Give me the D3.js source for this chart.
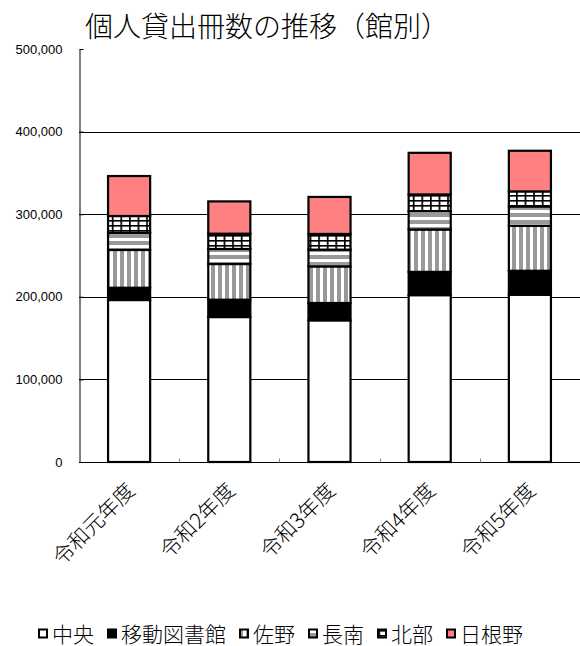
<!DOCTYPE html>
<html>
<head>
<meta charset="utf-8">
<script src="https://cdn.jsdelivr.net/npm/d3@7"></script>
<style>
  body { margin: 0; background: #fff; }
  svg { display: block; font-family: "Noto Sans CJK JP", sans-serif; font-weight: 300; }
</style>
</head>
<body>
<div id="chart"></div>
<script>
// 年度
const years = ["令和元年度", "令和2年度", "令和3年度", "令和4年度", "令和5年度"];

// 館別の貸出冊数（下から積み上げ）
const branches = ["中央", "移動図書館", "佐野", "長南", "北部", "日根野"];
const chuo     = [196100, 175500, 171500, 202000, 202500];
const idou     = [14900, 21000, 21000, 28200, 29000];
const sano     = [45700, 43200, 44300, 51300, 54500];
const chonan   = [20900, 18200, 20300, 22200, 23400];
const hokubu   = [20200, 18500, 19000, 20200, 18200];
const hineno   = [48400, 39100, 44800, 50400, 49200];

const yTicks = [0, 100000, 200000, 300000, 400000, 500000];

const width = 580, height = 646;
const margin = { top: 49, right: 0, bottom: 184, left: 79 };

const seriesValues = [chuo, idou, sano, chonan, hokubu, hineno];
const table = years.map((y, i) => {
  const row = { year: y };
  branches.forEach((b, j) => row[b] = seriesValues[j][i]);
  return row;
});

const svg = d3.select("#chart").append("svg")
  .attr("width", width)
  .attr("height", height);

// fill patterns
const defs = svg.append("defs");

const pSano = defs.append("pattern").attr("id", "p-sano")
  .attr("patternUnits", "userSpaceOnUse").attr("width", 7).attr("height", 10);
pSano.append("rect").attr("width", 7).attr("height", 10).attr("fill", "#fff");
pSano.append("rect").attr("x", 1).attr("width", 4).attr("height", 10).attr("fill", "#999");

const pChonan = defs.append("pattern").attr("id", "p-chonan")
  .attr("patternUnits", "userSpaceOnUse").attr("width", 10).attr("height", 7);
pChonan.append("rect").attr("width", 10).attr("height", 7).attr("fill", "#fff");
pChonan.append("rect").attr("y", 3).attr("width", 10).attr("height", 4).attr("fill", "#999");

const pHokubu = defs.append("pattern").attr("id", "p-hokubu")
  .attr("patternUnits", "userSpaceOnUse").attr("width", 8.6).attr("height", 5);
pHokubu.append("rect").attr("width", 8.6).attr("height", 5).attr("fill", "#fff");
pHokubu.append("rect").attr("x", 0).attr("width", 1.7).attr("height", 5).attr("fill", "#000");
pHokubu.append("rect").attr("y", 0).attr("width", 8.6).attr("height", 1.6).attr("fill", "#000");

const fills = ["#fff", "#000", "url(#p-sano)", "url(#p-chonan)", "url(#p-hokubu)", "#ff8080"];

const x = d3.scaleBand()
  .domain(years)
  .range([margin.left, width - margin.right])
  .paddingInner(0.58)
  .paddingOuter(0.29);

const y = d3.scaleLinear()
  .domain([0, 500000])
  .range([height - margin.bottom, margin.top]);

// title
svg.append("text")
  .attr("x", 267)
  .attr("y", 37)
  .attr("text-anchor", "middle")
  .attr("font-size", 28)
  .attr("fill", "#000")
  .text("個人貸出冊数の推移（館別）");

// gridlines
svg.append("g")
  .selectAll("line")
  .data(yTicks.filter(d => d > 0 && d < 500000))
  .join("line")
    .attr("x1", margin.left)
    .attr("x2", width - margin.right)
    .attr("y1", d => Math.round(y(d)) + 0.5)
    .attr("y2", d => Math.round(y(d)) + 0.5)
    .attr("stroke", "#000")
    .attr("stroke-width", 1);

// y axis
const yAxis = svg.append("g")
  .attr("transform", `translate(${margin.left + 0.5},0)`)
  .call(d3.axisLeft(y)
    .tickValues(yTicks)
    .tickFormat(d3.format(","))
    .tickSizeInner(-4)
    .tickSizeOuter(0)
    .tickPadding(17));
yAxis.select(".domain").attr("stroke", "#000");
yAxis.selectAll(".tick line").attr("stroke", "#000");
yAxis.selectAll(".tick text")
  .attr("font-family", "Liberation Sans, Arial, sans-serif")
  .attr("font-weight", 400)
  .attr("font-size", 13)
  .attr("fill", "#000");

// x axis baseline and category ticks
const y0 = Math.round(y(0)) + 0.5;
svg.append("line")
  .attr("x1", margin.left).attr("x2", width - margin.right)
  .attr("y1", y0).attr("y2", y0)
  .attr("stroke", "#000");

const step = x.step();
svg.append("g")
  .selectAll("line")
  .data(years.slice(1))
  .join("line")
    .attr("x1", d => Math.round(x(d) - step * x.paddingInner() / 2) + 0.5)
    .attr("x2", d => Math.round(x(d) - step * x.paddingInner() / 2) + 0.5)
    .attr("y1", y0)
    .attr("y2", y0 - 4)
    .attr("stroke", "#888");

// stacked bars
const stacked = d3.stack().keys(branches)(table);

svg.append("g")
  .selectAll("g")
  .data(stacked)
  .join("g")
    .attr("fill", (d, i) => fills[i])
  .selectAll("rect")
  .data(d => d)
  .join("rect")
    .attr("x", d => x(d.data.year))
    .attr("width", x.bandwidth())
    .attr("y", d => y(d[1]))
    .attr("height", d => y(d[0]) - y(d[1]))
    .attr("stroke", "#000")
    .attr("stroke-width", 2.2);

// category labels
svg.append("g")
  .selectAll("text")
  .data(years)
  .join("text")
    .attr("transform", d => `translate(${x(d) + x.bandwidth() / 2 + 7},${y(0) + 30}) rotate(-45)`)
    .attr("text-anchor", "end")
    .attr("font-size", 21)
    .attr("fill", "#000")
    .text(d => d);

// legend
const legend = svg.append("g");
let lx = 38;
branches.forEach((b, i) => {
  legend.append("rect")
    .attr("x", lx + 1)
    .attr("y", 629.5)
    .attr("width", 8)
    .attr("height", 8)
    .attr("fill", fills[i])
    .attr("stroke", "#000")
    .attr("stroke-width", 2);
  const t = legend.append("text")
    .attr("x", lx + 14)
    .attr("y", 641.5)
    .attr("font-size", 21)
    .attr("fill", "#000")
    .text(b);
  lx += 14 + t.node().getComputedTextLength() + 13;
});
</script>
</body>
</html>
